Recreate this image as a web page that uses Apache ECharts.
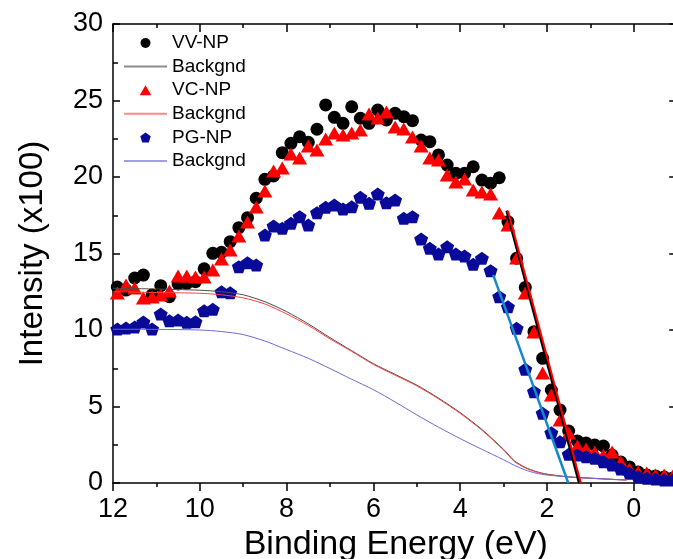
<!DOCTYPE html>
<html><head><meta charset="utf-8">
<script src="https://cdn.jsdelivr.net/npm/echarts@6/dist/echarts.min.js"></script>
<style>html,body{margin:0;padding:0;background:#fff}#c{width:673px;height:559px}</style>
</head><body><div id="c"></div>
<script>
// Binding energy grid of the measured points (eV)
const energy = [11.9,11.7,11.5,11.3,11.1,10.9,10.7,10.5,10.3,10.1,9.9,9.7,9.5,9.3,9.1,8.9,8.7,8.5,8.3,8.1,7.9,7.7,7.5,7.3,7.1,6.9,6.7,6.5,6.3,6.1,5.9,5.7,5.5,5.3,5.1,4.9,4.7,4.5,4.3,4.1,3.9,3.7,3.5,3.3,3.1,2.9,2.7,2.5,2.3,2.1,1.9,1.7,1.5,1.3,1.1,0.9,0.7,0.5,0.3,0.1,-0.1,-0.3,-0.5,-0.7,-0.9];
const vvNP = [12.81,12.61,13.40,13.59,12.29,12.90,12.18,13.01,13.05,13.16,14.00,15.01,15.08,15.77,16.69,17.34,18.61,19.85,20.07,21.59,22.20,22.63,22.27,23.12,24.71,23.90,23.51,24.59,23.84,23.51,24.38,23.73,24.16,23.94,23.68,22.42,22.31,21.44,20.78,20.24,20.24,20.67,19.80,19.59,19.95,17.08,14.69,12.78,9.89,8.15,6.08,4.77,3.40,2.75,2.61,2.48,2.42,1.83,1.37,1.05,0.72,0.52,0.46,0.39,0.33];
const vcNP = [12.42,12.94,12.75,12.09,12.16,12.29,12.55,13.53,13.53,13.46,13.46,13.92,14.64,15.23,16.14,17.06,18.04,19.08,20.39,20.59,21.50,21.24,22.03,21.76,22.48,22.88,22.75,22.88,23.07,24.12,23.86,24.25,23.27,23.14,22.61,22.03,21.24,21.11,20.13,19.67,19.87,19.15,19.02,18.89,17.65,16.86,14.71,12.42,9.87,7.19,5.75,4.12,3.27,2.42,2.22,2.03,1.83,2.03,1.37,0.92,0.72,0.65,0.52,0.52,0.46];
const pgNP = [10.07,10.13,10.20,10.52,10.07,11.05,10.61,10.65,10.50,10.54,11.26,11.35,12.50,12.44,14.14,14.40,14.25,16.21,16.80,16.65,16.97,17.41,16.86,17.67,18.02,18.17,17.91,18.06,18.67,18.28,18.89,18.32,18.50,17.30,17.41,15.95,15.34,14.97,15.44,14.97,14.84,14.29,14.69,13.88,12.18,11.52,10.11,7.43,5.97,4.56,3.29,2.70,1.88,1.83,1.72,1.61,1.39,1.18,0.92,0.63,0.41,0.31,0.26,0.20,0.20];

// Background curves
const bgEnergy = [12.0,11.0,10.0,9.5,9.0,8.5,8.0,7.5,7.0,6.5,6.0,5.5,5.0,4.5,4.0,3.5,3.0,2.75,2.5,2.25,2.0,1.5,1.0,0.5,0.17];
const bgVV = [12.73,12.68,12.60,12.50,12.30,11.85,11.20,10.40,9.50,8.65,7.80,7.10,6.40,5.55,4.60,3.50,2.20,1.45,1.02,0.75,0.58,0.40,0.32,0.24,0.20];
const bgVC = [12.50,12.45,12.40,12.30,12.10,11.70,11.05,10.30,9.42,8.60,7.75,7.05,6.35,5.50,4.55,3.45,2.15,1.40,0.98,0.72,0.56,0.39,0.31,0.23,0.19];
const bgPG = [10.05,10.04,10.00,9.90,9.70,9.28,8.72,8.15,7.48,6.78,6.10,5.30,4.45,3.65,2.90,2.20,1.52,1.15,0.85,0.64,0.52,0.40,0.31,0.24,0.20];

// Linear edge fits (end points)
const fitVVx = [2.93,1.26], fitVVy = [17.8,0];
const fitVCx = [2.90,1.22], fitVCy = [17.8,0];
const fitPGx = [3.24,1.51], fitPGy = [13.6,0];

// Axis ticks
const xMin = -2, xMax = 12, xStep = 2;
const yMin = 0, yMax = 30, yStep = 5;

const FONT = 'Liberation Sans, Arial, sans-serif';
const pentagon = 'path://M0,-10L9.511,-3.09L5.878,8.09L-5.878,8.09L-9.511,-3.09Z';
const triPath = 'path://M0,-9L10.4,9L-10.4,9Z';
const zip = (xs, ys) => xs.map((x, i) => [x, ys[i]]);

const chart = echarts.init(document.getElementById('c'), null, {renderer: 'canvas'});
const axisBase = {
  type: 'value', min: xMin, max: xMax, interval: xStep, inverse: true,
  splitLine: {show: false},
  axisLine: {show: true, onZero: false, lineStyle: {color: '#000', width: 1.5}},
};
const noSym = {opacity: 0};
const option = {
  animation: false,
  backgroundColor: '#fff',
  textStyle: {fontFamily: FONT},
  grid: {left: 113, top: 24, right: -47.6, bottom: 76, containLabel: false, outerBoundsMode: 'none'},
  legend: {
    orient: 'vertical', left: 123, top: 33.5, padding: 0,
    itemWidth: 43, itemHeight: 10, itemGap: 4.6,
    symbolKeepAspect: true,
    textStyle: {fontSize: 19, color: '#000', fontFamily: FONT, lineHeight: 19},
    formatter: n => n.split('#')[0],
    data: [
      {name: 'VV-NP', icon: 'circle', itemStyle: {opacity: 1}},
      {name: 'Backgnd#1', lineStyle: {color: '#8c8c8c', width: 2}, itemStyle: noSym},
      {name: 'VC-NP', icon: triPath, itemStyle: {opacity: 1}},
      {name: 'Backgnd#2', lineStyle: {color: '#ff8a8a', width: 2}, itemStyle: noSym},
      {name: 'PG-NP', icon: pentagon, itemStyle: {opacity: 1}},
      {name: 'Backgnd#3', lineStyle: {color: '#a0a0e0', width: 2}, itemStyle: noSym}
    ]
  },
  xAxis: [
    Object.assign({}, axisBase, {
      position: 'bottom',
      axisTick: {show: true, inside: false, length: 8, lineStyle: {color: '#000', width: 1.5}},
      minorTick: {show: true, splitNumber: 2, length: 4, lineStyle: {color: '#000', width: 1.5}},
      axisLabel: {fontSize: 27, color: '#000', margin: 13, fontFamily: FONT},
      name: 'Binding Energy (eV)', nameLocation: 'middle', nameGap: 43,
      nameTextStyle: {fontSize: 34, color: '#000', fontFamily: FONT, padding: [0, 42, 0, 0]}
    }),
    Object.assign({}, axisBase, {
      position: 'top',
      axisTick: {show: true, inside: true, length: 8, lineStyle: {color: '#000', width: 1.5}},
      minorTick: {show: true, splitNumber: 2, length: 4, lineStyle: {color: '#000', width: 1.5}},
      axisLabel: {show: false}
    })
  ],
  yAxis: [
    {
      type: 'value', min: yMin, max: yMax, interval: yStep, position: 'left',
      splitLine: {show: false},
      axisLine: {show: true, onZero: false, lineStyle: {color: '#000', width: 1.5}},
      axisTick: {show: true, inside: true, length: 7, lineStyle: {color: '#000', width: 1.5}},
      minorTick: {show: true, splitNumber: 2, length: 5, lineStyle: {color: '#000', width: 1.5}},
      axisLabel: {fontSize: 27, color: '#000', margin: 10, fontFamily: FONT},
      name: 'Intensity (x100)', nameLocation: 'middle', nameGap: 64,
      nameTextStyle: {fontSize: 33, color: '#000', fontFamily: FONT}
    },
    {
      type: 'value', min: yMin, max: yMax, interval: yStep, position: 'right', offset: -43.4,
      splitLine: {show: false},
      axisLine: {show: true, onZero: false, lineStyle: {color: '#000', width: 1.5}},
      axisTick: {show: true, inside: true, length: 8, lineStyle: {color: '#000', width: 1.5}},
      minorTick: {show: true, splitNumber: 2, length: 4, lineStyle: {color: '#000', width: 1.5}},
      axisLabel: {show: false}
    }
  ],
  series: [
    {name: 'Backgnd#1', type: 'line', data: zip(bgEnergy, bgVV), symbol: 'none', smooth: 0.25,
     lineStyle: {color: '#4d4d4d', width: 1}, itemStyle: {color: '#4d4d4d'}},
    {name: 'Backgnd#2', type: 'line', data: zip(bgEnergy, bgVC), symbol: 'none', smooth: 0.25,
     lineStyle: {color: '#ff4040', width: 1}, itemStyle: {color: '#ff4040'}},
    {name: 'Backgnd#3', type: 'line', data: zip(bgEnergy, bgPG), symbol: 'none', smooth: 0.25,
     lineStyle: {color: '#6b6bd6', width: 1}, itemStyle: {color: '#6b6bd6'}},
    {name: 'VV-NP', type: 'scatter', data: zip(energy, vvNP), symbol: 'circle', symbolSize: 13,
     itemStyle: {color: '#000', opacity: 1}},
    {name: 'VC-NP', type: 'scatter', data: zip(energy, vcNP), symbol: 'triangle', symbolSize: [15, 13],
     itemStyle: {color: '#ff0000', opacity: 1}},
    {name: 'PG-NP', type: 'scatter', data: zip(energy, pgNP), symbol: pentagon, symbolSize: [14, 13],
     itemStyle: {color: '#0a0a9a', opacity: 1}},
    {name: 'fitVV', type: 'line', data: zip(fitVVx, fitVVy), symbol: 'none',
     lineStyle: {color: '#000', width: 2.5}},
    {name: 'fitVC', type: 'line', data: zip(fitVCx, fitVCy), symbol: 'none',
     lineStyle: {color: '#ff0000', width: 2}},
    {name: 'fitPG', type: 'line', data: zip(fitPGx, fitPGy), symbol: 'none',
     lineStyle: {color: '#1688cc', width: 2.5}}
  ]
};
chart.setOption(option);
</script>
</body></html>
